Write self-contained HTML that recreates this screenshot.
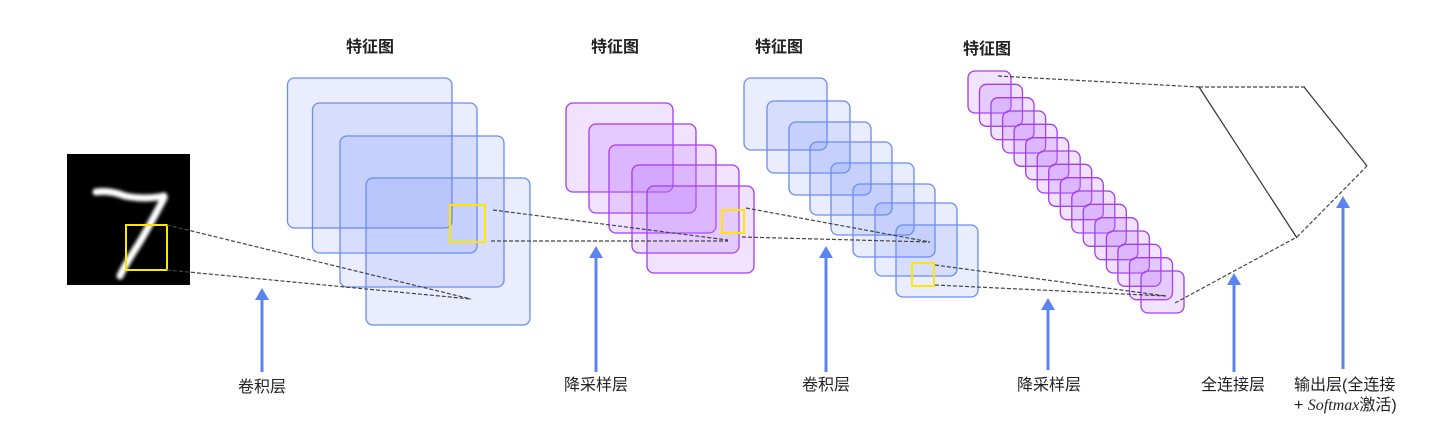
<!DOCTYPE html>
<html><head><meta charset="utf-8"><style>
html,body{margin:0;padding:0;background:#fff;}
svg{display:block;}
text{font-family:"Liberation Sans","Noto Sans CJK SC",sans-serif;fill:#222;}
</style></head><body>
<svg width="1444" height="439" viewBox="0 0 1444 439" xmlns="http://www.w3.org/2000/svg">
<defs>
<filter id="bl"><feGaussianBlur stdDeviation="1.6"/></filter>
</defs>
<!-- titles -->
<text x="370" y="52" font-size="16" font-weight="bold" text-anchor="middle">特征图</text>
<text x="615" y="52" font-size="16" font-weight="bold" text-anchor="middle">特征图</text>
<text x="779" y="52" font-size="16" font-weight="bold" text-anchor="middle">特征图</text>
<text x="987" y="54" font-size="16" font-weight="bold" text-anchor="middle">特征图</text>

<!-- input -->
<rect x="67" y="154" width="123" height="131" fill="#000"/>
<g filter="url(#bl)" stroke="#fff" stroke-width="7" fill="none" stroke-linecap="round">
<path d="M96 192 Q110 190 125 196 Q145 200 164 196"/>
<path d="M164 198 Q150 225 138 245 Q125 265 120 276"/>
</g>
<rect x="126" y="225" width="41" height="45" fill="none" stroke="#ffe600" stroke-width="2"/>

<!-- conv1 -->
<g fill="rgba(110,135,245,0.15)" stroke="#6a8cf5" stroke-width="1.3">
<rect x="287.5" y="78" width="164.5" height="150" rx="7"/>
<rect x="312.5" y="103" width="164.5" height="150" rx="7"/>
<rect x="340" y="136" width="164" height="151" rx="7"/>
<rect x="366" y="178" width="164" height="147" rx="7"/>
</g>
<rect x="450" y="205" width="35" height="37" fill="none" stroke="#ffe600" stroke-width="2"/>

<!-- pool1 -->
<g fill="rgba(185,110,255,0.2)" stroke="#a23cf0" stroke-width="1.3">
<rect x="566" y="103" width="107" height="89" rx="7"/>
<rect x="589" y="124" width="107" height="89" rx="7"/>
<rect x="609" y="145" width="107" height="88" rx="7"/>
<rect x="632" y="165" width="107" height="88" rx="7"/>
<rect x="647" y="186" width="107" height="87" rx="7"/>
</g>
<rect x="722" y="210" width="22" height="23" fill="none" stroke="#ffe600" stroke-width="2"/>

<!-- conv2 -->
<g fill="rgba(110,135,245,0.15)" stroke="#6a8cf5" stroke-width="1.3">
<rect x="744" y="78" width="83" height="72" rx="7"/>
<rect x="767" y="101" width="83" height="72" rx="7"/>
<rect x="789" y="122" width="82" height="73" rx="7"/>
<rect x="810" y="142" width="82" height="73" rx="7"/>
<rect x="831" y="163" width="83" height="72" rx="7"/>
<rect x="853" y="184" width="82" height="73" rx="7"/>
<rect x="875" y="203" width="82" height="73" rx="7"/>
<rect x="896" y="225" width="82" height="72" rx="7"/>
</g>
<rect x="912" y="263" width="22" height="23" fill="none" stroke="#ffe600" stroke-width="2"/>

<!-- pool2 -->
<g fill="rgba(185,110,255,0.2)" stroke="#a23cf0" stroke-width="1.3">
<rect x="968" y="71" width="43" height="42" rx="7"/>
<rect x="979.5" y="84.3" width="43" height="42" rx="7"/>
<rect x="991" y="97.7" width="43" height="42" rx="7"/>
<rect x="1002.6" y="111" width="43" height="42" rx="7"/>
<rect x="1014.1" y="124.3" width="43" height="42" rx="7"/>
<rect x="1025.7" y="137.7" width="43" height="42" rx="7"/>
<rect x="1037.2" y="151" width="43" height="42" rx="7"/>
<rect x="1048.7" y="164.3" width="43" height="42" rx="7"/>
<rect x="1060.3" y="177.7" width="43" height="42" rx="7"/>
<rect x="1071.8" y="191" width="43" height="42" rx="7"/>
<rect x="1083.3" y="204.3" width="43" height="42" rx="7"/>
<rect x="1094.9" y="217.7" width="43" height="42" rx="7"/>
<rect x="1106.4" y="231" width="43" height="42" rx="7"/>
<rect x="1117.9" y="244.3" width="43" height="42" rx="7"/>
<rect x="1129.5" y="257.7" width="43" height="42" rx="7"/>
<rect x="1141" y="271" width="43" height="42" rx="7"/>
</g>

<!-- dashed connectors -->
<g stroke="#444" stroke-width="1.2" fill="none" stroke-dasharray="4 2">
<line x1="167" y1="225" x2="471" y2="299"/>
<line x1="167" y1="270" x2="471" y2="299"/>
<line x1="493" y1="210" x2="728" y2="240"/>
<line x1="491" y1="241" x2="728" y2="241"/>
<line x1="746" y1="208" x2="930" y2="242"/>
<line x1="742" y1="237" x2="930" y2="242"/>
<line x1="935" y1="265" x2="1166" y2="296"/>
<line x1="935" y1="285" x2="1166" y2="296"/>
<line x1="998" y1="76" x2="1199" y2="87"/>
<line x1="1199" y1="87" x2="1305" y2="87"/>
<line x1="1175" y1="303" x2="1297" y2="237"/>
<line x1="1297" y1="237" x2="1367" y2="166"/>
</g>
<g stroke="#333" stroke-width="1.2">
<line x1="1199" y1="87" x2="1297" y2="238"/>
<line x1="1304" y1="87" x2="1367" y2="166"/>
</g>

<!-- arrows -->
<g stroke="#5b84f0" stroke-width="3" fill="#5b84f0">
<line x1="262" y1="300" x2="262" y2="372"/>
<polygon points="262,288 255,300 269,300" stroke="none"/>
<line x1="596" y1="258" x2="596" y2="372"/>
<polygon points="596,246 589,258 603,258" stroke="none"/>
<line x1="826" y1="258" x2="826" y2="372"/>
<polygon points="826,246 819,258 833,258" stroke="none"/>
<line x1="1048" y1="310" x2="1048" y2="370"/>
<polygon points="1048,298 1041,310 1055,310" stroke="none"/>
<line x1="1234" y1="285" x2="1234" y2="372"/>
<polygon points="1234,273 1227,285 1241,285" stroke="none"/>
<line x1="1343" y1="208" x2="1343" y2="369"/>
<polygon points="1343,196 1336,208 1350,208" stroke="none"/>
</g>

<!-- labels -->
<g font-size="16" text-anchor="middle">
<text x="262" y="392">卷积层</text>
<text x="596" y="390">降采样层</text>
<text x="826" y="390">卷积层</text>
<text x="1049" y="390">降采样层</text>
<text x="1233" y="390">全连接层</text>
</g>
<text x="1294" y="390" font-size="16">输出层(全连接</text>
<text x="1294" y="410" font-size="16">+ <tspan font-family="Liberation Serif" font-style="italic">Softmax</tspan>激活)</text>
</svg>
</body></html>
